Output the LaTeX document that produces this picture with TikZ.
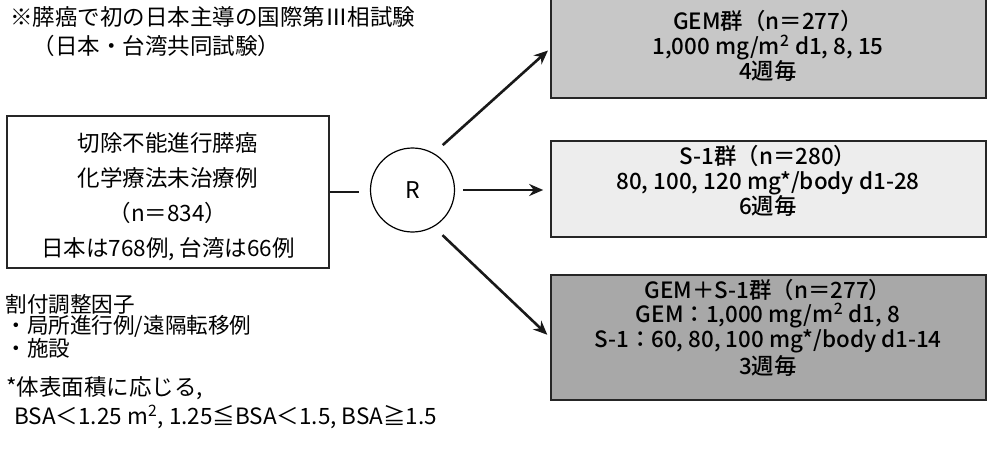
\documentclass[tikz,border=0pt]{standalone}
\usepackage{fontspec}
\setmainfont{Noto Sans CJK JP}
\newfontfamily\armfont{Noto Sans CJK JP Medium}
\usetikzlibrary{arrows.meta}

\definecolor{gemfill}{gray}{0.78}
\definecolor{sonefill}{gray}{0.93}
\definecolor{combfill}{gray}{0.66}

\begin{document}
\begin{tikzpicture}[x=0.5pt,y=-0.5pt,
    armbox/.style={draw=black!85, line width=0.8pt, minimum width=217.5pt, inner sep=0pt},
    armtext/.style={align=center, inner sep=0pt, font=\fontsize{11.2}{12.5}\selectfont\armfont},
    plain/.style={anchor=west, align=left, inner sep=0pt},
    flow/.style={line width=1.3pt, black!90},
    flowarrow/.style={flow, -{Stealth[length=7pt,width=6pt]}}]
    \useasboundingbox (0,0) rectangle (987,455);

    % header
    \node[plain, font=\fontsize{11.25}{14.5}\selectfont] (title) at (10,32)
        {※膵癌で初の日本主導の国際第Ⅲ相試験\\　（日本・台湾共同試験）};

    % patients and randomisation
    \node[draw=black!85, line width=0.8pt, minimum width=161pt, minimum height=76pt] (pt) at (168,192) {};
    \node[align=center, inner sep=0pt, font=\fontsize{11.25}{17.5}\selectfont] (pttext) at (168,197)
        {切除不能進行膵癌\\化学療法未治療例\\（n＝834）\\日本は768例, 台湾は66例};
    \node[circle, draw, line width=0.6pt, minimum size=42pt, inner sep=0pt,
        font=\fontsize{11.5}{12}\selectfont] (rand) at (412.5,190) {R};

    % treatment arms
    \node[armbox, fill=gemfill, minimum height=49.5pt] (gem) at (768.5,48.5) {};
    \node[armbox, fill=sonefill, minimum height=48pt] (sone) at (768.5,189) {};
    \node[armbox, fill=combfill, minimum height=62.5pt] (comb) at (768.5,337.5) {};
    \node[armtext] (gemtext) at (768,46)
        {GEM群（n＝277）\\1,000 mg/m\textsuperscript{2} d1, 8, 15\\4週毎};
    \node[armtext] (sonetext) at (768,181)
        {S-1群（n＝280）\\80, 100, 120 mg*/body d1-28\\6週毎};
    \node[armtext, font=\fontsize{11.2}{11.7}\selectfont\armfont] (combtext) at (768,328)
        {GEM＋S-1群（n＝277）\\GEM：1,000 mg/m\textsuperscript{2} d1, 8\\
         S-1：60, 80, 100 mg*/body d1-14\\3週毎};

    \draw[flow, shorten >=5.5pt] (pt.east) -- (pt.east -| rand.west);
    \draw[flowarrow, shorten <=4pt, shorten >=3.5pt] (rand.east) -- (rand.east -| sone.west);
    \draw[flowarrow, shorten <=6pt, shorten >=1.5pt] (rand.60) -- (gem.west);
    \draw[flowarrow, shorten <=6pt, shorten >=2pt] (rand.-60) -- (comb.west);

    % stratification and footnote
    \foreach \txt [count=\k] in {割付調整因子, ・局所進行例/遠隔転移例, ・施設}
        \node[plain, font=\fontsize{10.8}{12}\selectfont] (factor\k) at (5,{283+21.8*\k}) {\txt};
    \node[plain, font=\fontsize{11.25}{14.5}\selectfont] (note) at (6,403)
        {*体表面積に応じる,\\\hspace{4pt}BSA＜1.25 m\textsuperscript{2}, 1.25≦BSA＜1.5, BSA≧1.5};
\end{tikzpicture}
\end{document}
